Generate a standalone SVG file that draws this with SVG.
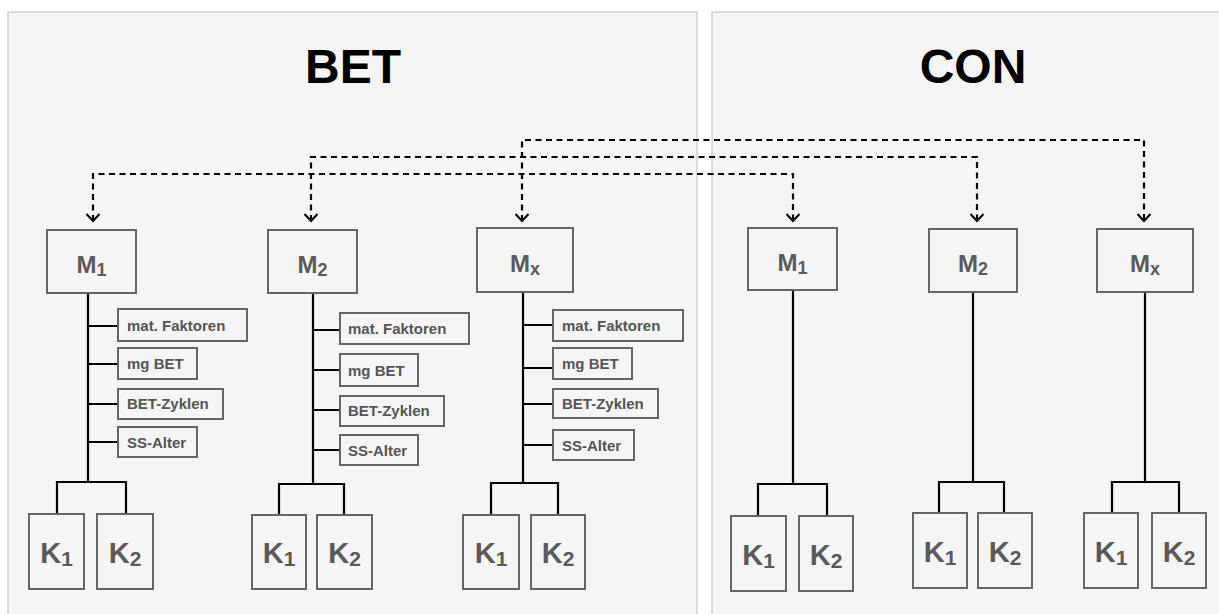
<svg xmlns="http://www.w3.org/2000/svg" width="1219" height="614" viewBox="0 0 1219 614">
<style>
.panel{fill:#f5f5f5;stroke:#d2d2d2;stroke-width:1.5}
.title{font-family:"Liberation Sans",Arial,sans-serif;font-weight:bold;font-size:48px;fill:#000;text-anchor:middle}
.box{fill:#f5f5f5;stroke:#666;stroke-width:2}
.mt{font-family:"Liberation Sans",Arial,sans-serif;font-weight:bold;font-size:24px;fill:#5a5a5a;text-anchor:middle}
.kt{font-family:"Liberation Sans",Arial,sans-serif;font-weight:bold;font-size:29px;fill:#5a5a5a;text-anchor:middle}
.sub{font-size:18px}
.ksub{font-size:21px}
.ft{font-family:"Liberation Sans",Arial,sans-serif;font-weight:bold;font-size:15px;fill:#555}
.ln{fill:none;stroke:#000;stroke-width:2.2}
.dash{fill:none;stroke:#000;stroke-width:2.2;stroke-dasharray:6 4.5}
</style>
<defs>
<marker id="arr" markerUnits="userSpaceOnUse" markerWidth="20" markerHeight="20" viewBox="-10 -10 20 20" refX="0" refY="0" orient="auto-start-reverse">
<path d="M-7,-6.5 L0,0 L-7,6.5" fill="none" stroke="#000" stroke-width="2"/>
</marker>
</defs>
<rect class="panel" x="8" y="12" width="689" height="610"/>
<rect class="panel" x="712" y="12" width="515" height="610"/>
<text class="title" x="353" y="83">BET</text>
<text class="title" x="973" y="83">CON</text>

<g id="connectors">
<path class="dash" d="M93,221 V174 H793 V221" marker-start="url(#arr)" marker-end="url(#arr)"/>
<path class="dash" d="M311,221 V157 H977 V221" marker-start="url(#arr)" marker-end="url(#arr)"/>
<path class="dash" d="M522,221 V140 H1144 V221" marker-start="url(#arr)" marker-end="url(#arr)"/>
<path class="ln" d="M88,293 V482 M88,326 H118 M88,364 H118 M88,404 H118 M88,442 H118 M57,514 V482 H126 V514"/>
<path class="ln" d="M313,293 V484 M313,330 H340 M313,370 H340 M313,410 H340 M313,450 H340 M279,514 V484 H344 V514"/>
<path class="ln" d="M523,292 V483 M523,325 H553 M523,368 H553 M523,404 H553 M523,445 H553 M491,514 V483 H558 V514"/>
<path class="ln" d="M793,290 V484 M758,516 V484 H827 V516"/>
<path class="ln" d="M973,292 V482 M939,513 V482 H1004 V513"/>
<path class="ln" d="M1145,292 V482 M1112,513 V482 H1179 V513"/>
</g>

<g id="bet-m1">
<rect class="box" x="47" y="230" width="89" height="63"/>
<text class="mt" x="91.5" y="273">M<tspan class="sub" dy="3">1</tspan></text>
</g>
<g id="bet-m1-f1"><rect class="box" x="118" y="309" width="129" height="32"/><text class="ft" x="127" y="331">mat. Faktoren</text></g>
<g id="bet-m1-f2"><rect class="box" x="118" y="348" width="79" height="31"/><text class="ft" x="127" y="369">mg BET</text></g>
<g id="bet-m1-f3"><rect class="box" x="118" y="389" width="105" height="30"/><text class="ft" x="127" y="409">BET-Zyklen</text></g>
<g id="bet-m1-f4"><rect class="box" x="118" y="427" width="79" height="30"/><text class="ft" x="127" y="448">SS-Alter</text></g>
<g id="bet-m1-k1"><rect class="box" x="29" y="514" width="55" height="75"/><text class="kt" x="56.5" y="563">K<tspan class="ksub" dy="3">1</tspan></text></g>
<g id="bet-m1-k2"><rect class="box" x="97" y="514" width="56" height="75"/><text class="kt" x="125" y="563">K<tspan class="ksub" dy="3">2</tspan></text></g>

<g id="bet-m2">
<rect class="box" x="268" y="230" width="89" height="63"/>
<text class="mt" x="312.5" y="273">M<tspan class="sub" dy="3">2</tspan></text>
</g>
<g id="bet-m2-f1"><rect class="box" x="340" y="313" width="129" height="31"/><text class="ft" x="348" y="334">mat. Faktoren</text></g>
<g id="bet-m2-f2"><rect class="box" x="340" y="354" width="78" height="32"/><text class="ft" x="348" y="376">mg BET</text></g>
<g id="bet-m2-f3"><rect class="box" x="340" y="396" width="104" height="30"/><text class="ft" x="348" y="416">BET-Zyklen</text></g>
<g id="bet-m2-f4"><rect class="box" x="340" y="435" width="78" height="30"/><text class="ft" x="348" y="456">SS-Alter</text></g>
<g id="bet-m2-k1"><rect class="box" x="252" y="515" width="54" height="74"/><text class="kt" x="279" y="563">K<tspan class="ksub" dy="3">1</tspan></text></g>
<g id="bet-m2-k2"><rect class="box" x="317" y="515" width="55" height="74"/><text class="kt" x="344.5" y="563">K<tspan class="ksub" dy="3">2</tspan></text></g>

<g id="bet-mx">
<rect class="box" x="477" y="228" width="96" height="64"/>
<text class="mt" x="525" y="272">M<tspan class="sub" dy="3">x</tspan></text>
</g>
<g id="bet-mx-f1"><rect class="box" x="553" y="310" width="130" height="31"/><text class="ft" x="562" y="331">mat. Faktoren</text></g>
<g id="bet-mx-f2"><rect class="box" x="553" y="348" width="79" height="31"/><text class="ft" x="562" y="369">mg BET</text></g>
<g id="bet-mx-f3"><rect class="box" x="553" y="389" width="105" height="29"/><text class="ft" x="562" y="409">BET-Zyklen</text></g>
<g id="bet-mx-f4"><rect class="box" x="553" y="430" width="81" height="30"/><text class="ft" x="562" y="451">SS-Alter</text></g>
<g id="bet-mx-k1"><rect class="box" x="463" y="515" width="56" height="74"/><text class="kt" x="491" y="563">K<tspan class="ksub" dy="3">1</tspan></text></g>
<g id="bet-mx-k2"><rect class="box" x="531" y="515" width="54" height="74"/><text class="kt" x="558" y="563">K<tspan class="ksub" dy="3">2</tspan></text></g>

<g id="con-m1">
<rect class="box" x="748" y="228" width="89" height="62"/>
<text class="mt" x="792.5" y="271">M<tspan class="sub" dy="3">1</tspan></text>
</g>
<g id="con-m1-k1"><rect class="box" x="731" y="516" width="55" height="75"/><text class="kt" x="758.5" y="565">K<tspan class="ksub" dy="3">1</tspan></text></g>
<g id="con-m1-k2"><rect class="box" x="799" y="516" width="54" height="75"/><text class="kt" x="826" y="565">K<tspan class="ksub" dy="3">2</tspan></text></g>

<g id="con-m2">
<rect class="box" x="929" y="229" width="88" height="63"/>
<text class="mt" x="973" y="272">M<tspan class="sub" dy="3">2</tspan></text>
</g>
<g id="con-m2-k1"><rect class="box" x="913" y="513" width="54" height="75"/><text class="kt" x="940" y="562">K<tspan class="ksub" dy="3">1</tspan></text></g>
<g id="con-m2-k2"><rect class="box" x="978" y="513" width="54" height="75"/><text class="kt" x="1005" y="562">K<tspan class="ksub" dy="3">2</tspan></text></g>

<g id="con-mx">
<rect class="box" x="1097" y="229" width="96" height="63"/>
<text class="mt" x="1145" y="272">M<tspan class="sub" dy="3">x</tspan></text>
</g>
<g id="con-mx-k1"><rect class="box" x="1084" y="513" width="54" height="75"/><text class="kt" x="1111" y="562">K<tspan class="ksub" dy="3">1</tspan></text></g>
<g id="con-mx-k2"><rect class="box" x="1152" y="513" width="54" height="75"/><text class="kt" x="1179" y="562">K<tspan class="ksub" dy="3">2</tspan></text></g>
</svg>
